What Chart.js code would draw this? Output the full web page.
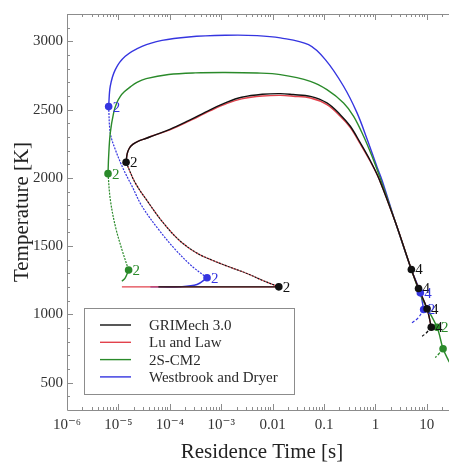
<!DOCTYPE html>
<html>
<head>
<meta charset="utf-8">
<script src="https://cdn.jsdelivr.net/npm/chart.js@4.4.1/dist/chart.umd.min.js"></script>
<style>
  html, body { margin: 0; padding: 0; background: #fff; }
  #wrap { width: 449px; height: 462px; }
</style>
</head>
<body>
<div id="wrap"><canvas id="sCurve"></canvas></div>
<script>
// S-curves: residence time [s] vs temperature [K] for four mechanisms
const mechNames = ['GRIMech 3.0', 'Lu and Law', '2S-CM2', 'Westbrook and Dryer'];
const mechColors = ['#111111', '#e2424c', '#2a8a2a', '#3535e0'];

const xTickValues = [1e-6, 1e-5, 1e-4, 1e-3, 0.01, 0.1, 1, 10];
const xTickLabels = ['10\u207B\u2076', '10\u207B\u2075', '10\u207B\u2074', '10\u207B\u00B3', '0.01', '0.1', '1', '10'];
const yTickValues = [500, 1000, 1500, 2000, 2500, 3000];

// GRIMech 3.0: [time, T]
const griUpper = [[1.41e-5, 2114], [1.48e-5, 2175], [1.62e-5, 2215], [1.9e-5, 2245], [2.4e-5, 2268], [3.5e-5, 2290],
  [4.8e-5, 2310], [1.0e-4, 2355], [2.2e-4, 2415], [6.2e-4, 2500], [1.3e-3, 2555], [2.5e-3, 2590], [6.3e-3, 2612],
  [0.0141, 2617], [0.025, 2610], [0.0543, 2597], [0.114, 2549], [0.207, 2463], [0.325, 2378], [0.509, 2256],
  [0.797, 2125], [1.2, 1985], [2.5, 1665], [5.0, 1329], [6.9, 1190], [10.1, 1041], [12.2, 906]];
const griMiddle = [[1.41e-5, 2114], [2.13e-5, 1963], [3.87e-5, 1817], [7.05e-5, 1682], [1.48e-4, 1548], [3.16e-4, 1455],
  [7.08e-4, 1393], [1.58e-3, 1342], [3.16e-3, 1300], [6.31e-3, 1250], [1.32e-2, 1202]];
const griLower = [[6.0e-5, 1202], [1.32e-2, 1202]];
const griHook = [[12.2, 906], [9.6, 862], [7.5, 831]];
const griMarks = [[1.41e-5, 2114, '2'], [1.32e-2, 1202, '2'], [5.0, 1329, '4'], [6.9, 1190, '4'], [10.1, 1041, '4'], [12.2, 906, '4']];

// Lu and Law
const luUpper = [[1.41e-5, 2114], [1.48e-5, 2175], [1.62e-5, 2215], [1.9e-5, 2245], [2.4e-5, 2268], [3.5e-5, 2290],
  [4.8e-5, 2310], [1.0e-4, 2352], [2.2e-4, 2410], [6.2e-4, 2492], [1.3e-3, 2545], [2.5e-3, 2578], [6.3e-3, 2599],
  [0.0141, 2604], [0.025, 2598], [0.0543, 2585], [0.114, 2537], [0.207, 2452], [0.325, 2368], [0.509, 2248],
  [0.797, 2120], [1.2, 1985], [2.5, 1665], [5.0, 1329], [6.9, 1190], [10.1, 1041], [12.2, 906]];
const luMiddle = [[1.41e-5, 2114], [2.13e-5, 1963], [3.87e-5, 1817], [7.05e-5, 1682], [1.48e-4, 1548], [3.16e-4, 1455],
  [7.08e-4, 1393], [1.58e-3, 1342], [3.16e-3, 1300], [6.31e-3, 1250], [1.32e-2, 1202]];
const luLower = [[1.17e-5, 1202], [1.32e-2, 1202]];

// 2S-CM2
const cmUpper = [[6.28e-6, 2031], [6.46e-6, 2158], [6.95e-6, 2329], [8.07e-6, 2476], [9.3e-6, 2550], [1.09e-5, 2597],
  [1.3e-5, 2630], [1.66e-5, 2663], [2.3e-5, 2700], [3.47e-5, 2727], [9.48e-5, 2757], [3.13e-4, 2769], [1.2e-3, 2772],
  [5.0e-3, 2768], [0.0141, 2756], [0.0543, 2707], [0.114, 2646], [0.24, 2549], [0.377, 2451], [0.589, 2305],
  [0.859, 2158], [1.245, 1995], [2.5, 1665], [5.0, 1329], [8.0, 1120], [15.8, 906], [20.7, 748], [27.4, 650]];
const cmMiddle = [[6.28e-6, 2031], [6.95e-6, 1842], [8.71e-6, 1646], [1.17e-5, 1475], [1.58e-5, 1325]];
const cmLower = [[1.58e-5, 1325], [1.36e-5, 1268], [1.17e-5, 1243]];
const cmHook = [[20.7, 748], [17.2, 712], [14.6, 684]];
const cmMarks = [[6.28e-6, 2031, '2'], [1.58e-5, 1325, '2'], [15.8, 906, '2'], [20.7, 748, '']];

// Westbrook and Dryer
const wdUpper = [[6.46e-6, 2522], [6.95e-6, 2671], [8.71e-6, 2793], [1.36e-5, 2890], [2.88e-5, 2963], [7.05e-5, 3007],
  [2.32e-4, 3032], [1.2e-3, 3044], [5.0e-3, 3042], [0.0141, 3025], [0.05, 2975], [0.106, 2866], [0.24, 2671],
  [0.439, 2476], [0.687, 2285], [1.074, 2080], [1.34, 1985], [2.5, 1665], [5.0, 1329], [7.48, 1158], [8.67, 1036]];
const wdMiddle = [[6.46e-6, 2522], [6.95e-6, 2329], [8.71e-6, 2207], [1.26e-5, 2061], [1.84e-5, 1939], [2.88e-5, 1792],
  [6.05e-5, 1622], [1.28e-4, 1475], [2.7e-4, 1353], [5.3e-4, 1268]];
const wdLower = [[5.3e-4, 1268], [3.38e-4, 1219], [1.6e-4, 1203], [4.2e-5, 1202]];
const wdHook = [[8.67, 1036], [6.8, 975], [5.15, 938]];
const wdMarks = [[6.46e-6, 2522, '2'], [5.3e-4, 1268, '2'], [7.48, 1158, '4'], [8.67, 1036, '2']];

const serif = "'Liberation Serif', 'DejaVu Serif', serif";
const pts = arr => arr.map(p => ({ x: p[0], y: p[1] }));

function solid(arr, c, label) {
  return { label: label || '', data: pts(arr), borderColor: mechColors[c], borderWidth: 1.4,
    showLine: true, pointRadius: 0, tension: 0.35, fill: false, legendRow: label ? c : -1 };
}
function dotted(arr, c, offset) {
  return { label: '', data: pts(arr), borderColor: mechColors[c], borderWidth: 1.2, borderDash: [2, 1.2],
    borderDashOffset: offset || 0, showLine: true, pointRadius: 0, tension: 0.35, fill: false, legendRow: -1 };
}
function hook(arr, c) {
  return { label: '', data: pts(arr), borderColor: mechColors[c], borderWidth: 1.2, borderDash: [3, 2],
    showLine: true, pointRadius: 0, tension: 0.4, fill: false, legendRow: -1 };
}
function marks(arr, c) {
  return { label: '', data: pts(arr), marks: arr.map(p => p[2]), borderColor: mechColors[c],
    backgroundColor: mechColors[c], pointRadius: 3.8, pointBorderWidth: 0, showLine: false,
    order: -1, legendRow: -1 };
}

const datasets = [
  solid(griUpper, 0, mechNames[0]), dotted(griMiddle, 0), solid(griLower, 0), hook(griHook, 0), marks(griMarks, 0),
  solid(luUpper, 1, mechNames[1]), dotted(luMiddle, 1, 2), solid(luLower, 1),
  solid(cmUpper, 2, mechNames[2]), dotted(cmMiddle, 2), solid(cmLower, 2), hook(cmHook, 2), marks(cmMarks, 2),
  solid(wdUpper, 3, mechNames[3]), dotted(wdMiddle, 3), solid(wdLower, 3), hook(wdHook, 3), marks(wdMarks, 3)
];

// frame with inward ticks, top axis mirrored
const frame = {
  id: 'frame',
  beforeDatasetsDraw(chart) {
    const { ctx, chartArea: a, scales: { x, y } } = chart;
    ctx.save();
    ctx.strokeStyle = '#8c8c8c';
    ctx.lineWidth = 1;
    ctx.beginPath();
    ctx.moveTo(a.right + 1, a.top + 0.5);
    ctx.lineTo(a.left + 0.5, a.top + 0.5);
    ctx.lineTo(a.left + 0.5, a.bottom + 0.5);
    ctx.lineTo(a.right + 1, a.bottom + 0.5);
    for (let d = -6; d <= 1; d++) {
      for (let m = 1; m <= 9; m++) {
        const v = m * Math.pow(10, d);
        if (v > x.max) break;
        const px = Math.round(x.getPixelForValue(v)) + 0.5;
        const len = m === 1 ? 6 : 3;
        ctx.moveTo(px, a.bottom); ctx.lineTo(px, a.bottom - len);
        ctx.moveTo(px, a.top); ctx.lineTo(px, a.top + len);
      }
    }
    for (let t = 400; t <= 3200; t += 100) {
      const py = Math.round(y.getPixelForValue(t)) + 0.5;
      const len = t % 500 === 0 ? 6 : 3;
      ctx.moveTo(a.left, py); ctx.lineTo(a.left + len, py);
    }
    ctx.stroke();
    ctx.restore();
  },
  afterDraw(chart) {
    // x axis title, centred a little right of the plot middle
    const ctx = chart.ctx;
    ctx.save();
    ctx.font = '21px ' + serif;
    ctx.fillStyle = '#222';
    ctx.textAlign = 'center';
    ctx.textBaseline = 'middle';
    ctx.fillText('Residence Time [s]', 262, 452);
    ctx.restore();
  }
};

// numbers beside the turning-point markers
const markLabels = {
  id: 'markLabels',
  afterDatasetsDraw(chart) {
    const ctx = chart.ctx;
    ctx.save();
    ctx.font = '15px ' + serif;
    ctx.textBaseline = 'middle';
    ctx.textAlign = 'left';
    chart.data.datasets.forEach((ds, i) => {
      if (!ds.marks) return;
      ctx.fillStyle = ds.borderColor;
      chart.getDatasetMeta(i).data.forEach((el, j) => {
        if (ds.marks[j]) ctx.fillText(ds.marks[j], el.x + 4, el.y + 1);
      });
    });
    ctx.restore();
  }
};

// boxed legend inside the plot, lower left
const boxLegend = {
  id: 'boxLegend',
  afterDatasetsDraw(chart) {
    const ctx = chart.ctx;
    const rows = chart.data.datasets.filter(ds => ds.legendRow >= 0);
    ctx.save();
    ctx.fillStyle = '#fff';
    ctx.fillRect(84, 308, 210, 86);
    ctx.strokeStyle = '#8c8c8c';
    ctx.lineWidth = 1;
    ctx.strokeRect(84.5, 308.5, 210, 86);
    ctx.font = '15px ' + serif;
    ctx.textBaseline = 'middle';
    rows.forEach((ds, i) => {
      const yy = 325 + i * 17.3;
      ctx.strokeStyle = ds.borderColor;
      ctx.lineWidth = 1.4;
      ctx.beginPath();
      ctx.moveTo(100, yy); ctx.lineTo(131, yy);
      ctx.stroke();
      ctx.fillStyle = '#2a2a2a';
      ctx.fillText(ds.label, 149, yy + 1);
    });
    ctx.restore();
  }
};

new Chart(document.getElementById('sCurve'), {
  type: 'scatter',
  data: { datasets },
  plugins: [frame, markLabels, boxLegend],
  options: {
    responsive: true,
    maintainAspectRatio: false,
    animation: false,
    layout: { autoPadding: false, padding: { top: 14, right: 0, left: 0, bottom: 0 } },
    plugins: { legend: { display: false }, tooltip: { enabled: false } },
    scales: {
      x: {
        type: 'logarithmic',
        min: 1e-6,
        max: 27,
        afterBuildTicks: s => { s.ticks = xTickValues.map(v => ({ value: v })); },
        afterFit: s => { s.height = 52; s.paddingLeft = 0; s.paddingRight = 0; },
        grid: { display: false, drawTicks: false },
        border: { display: false },
        ticks: {
          autoSkip: false, maxRotation: 0, padding: 6, color: '#333',
          font: { family: serif, size: 15 },
          callback: (v, i) => xTickLabels[i]
        }
      },
      y: {
        min: 300,
        max: 3200,
        afterBuildTicks: s => { s.ticks = yTickValues.map(v => ({ value: v })); },
        afterFit: s => { s.width = 67; },
        grid: { display: false, drawTicks: false },
        border: { display: false },
        ticks: { padding: 4, color: '#333', font: { family: serif, size: 15 }, callback: v => String(v) },
        title: {
          display: true, text: 'Temperature [K]', color: '#222',
          font: { family: serif, size: 21, lineHeight: 1 }, padding: { top: 12, bottom: 0 }
        }
      }
    }
  }
});
</script>
</body>
</html>
